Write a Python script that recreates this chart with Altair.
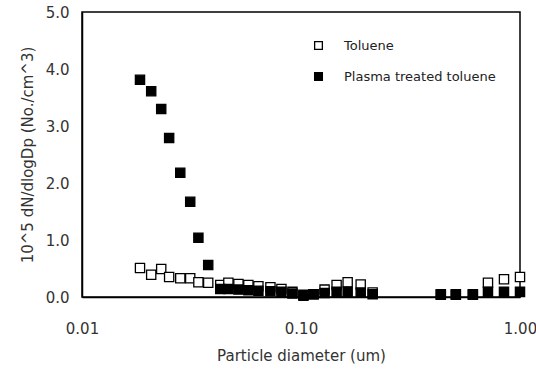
import altair as alt
import pandas as pd

diam = [0.0184, 0.0207, 0.0230, 0.0250, 0.0281, 0.0312, 0.0340, 0.0377,
        0.0428, 0.0466, 0.0518, 0.0575, 0.0639, 0.0725, 0.0814, 0.0914,
        0.1026, 0.1141, 0.1281, 0.1454, 0.1633, 0.1873, 0.2124,
        0.4349, 0.5093, 0.6092, 0.7141, 0.8451, 1.0]
toluene = [0.51, 0.39, 0.49, 0.35, 0.33, 0.33, 0.26, 0.25,
           0.21, 0.25, 0.23, 0.21, 0.19, 0.17, 0.14, 0.09,
           0.02, 0.05, 0.13, 0.21, 0.26, 0.22, 0.08,
           0.04, 0.04, 0.04, 0.25, 0.31, 0.35]
plasma = [3.81, 3.61, 3.30, 2.79, 2.18, 1.67, 1.04, 0.56,
          0.14, 0.14, 0.13, 0.12, 0.11, 0.10, 0.09, 0.06,
          0.04, 0.05, 0.07, 0.09, 0.09, 0.08, 0.05,
          0.05, 0.05, 0.05, 0.09, 0.09, 0.09]
series = ["Toluene", "Plasma treated toluene"]

rows = []
for i, d in enumerate(diam):
    rows.append({"d": d, "v": toluene[i], "s": series[0], "o": 0})
for i, d in enumerate(diam):
    rows.append({"d": d, "v": plasma[i], "s": series[1], "o": 1})
df = pd.DataFrame(rows)

FONT = "DejaVu Sans"

chart = alt.Chart(df).mark_point(shape="square", size=85, filled=True,
                                 stroke="black", strokeWidth=1.3, opacity=1).encode(
    x=alt.X("d:Q", scale=alt.Scale(type="log", domain=[0.01, 1], nice=False),
            axis=alt.Axis(values=[0.01, 0.1, 1.0], format=".2f", ticks=False,
                          labelFlush=False,
                          title="Particle diameter (um)", labelPadding=24,
                          titlePadding=12, grid=False)),
    y=alt.Y("v:Q", scale=alt.Scale(domain=[0, 5], nice=False),
            axis=alt.Axis(values=[0, 1, 2, 3, 4, 5], format=".1f", ticks=False,
                          title="10^5 dN/dlogDp (No./cm^3)", labelPadding=13,
                          titlePadding=10, grid=False)),
    fill=alt.Fill("s:N", scale=alt.Scale(domain=series, range=["white", "black"]),
                  legend=alt.Legend(orient="none", legendX=230, legendY=27, title=None,
                                    symbolType="square", symbolSize=60,
                                    symbolStrokeColor="black", symbolStrokeWidth=1.3,
                                    labelFont=FONT, labelFontSize=13, labelColor="#222",
                                    labelOffset=19, rowPadding=17)),
    order=alt.Order("o:Q"),
).properties(
    width=438, height=285,
    background="white",
    autosize=alt.AutoSizeParams(type="none"),
    padding={"left": 82, "top": 12, "right": 16, "bottom": 75},
).configure_view(
    stroke="black", strokeWidth=1.5
).configure_axis(
    labelFont=FONT, labelFontSize=15, labelColor="#333",
    titleFont=FONT, titleFontSize=15, titleFontWeight="normal", titleColor="#333",
    domainColor="black", domainWidth=1.5,
)

chart.save("out.html", embed_options={"renderer": "svg", "actions": False})
